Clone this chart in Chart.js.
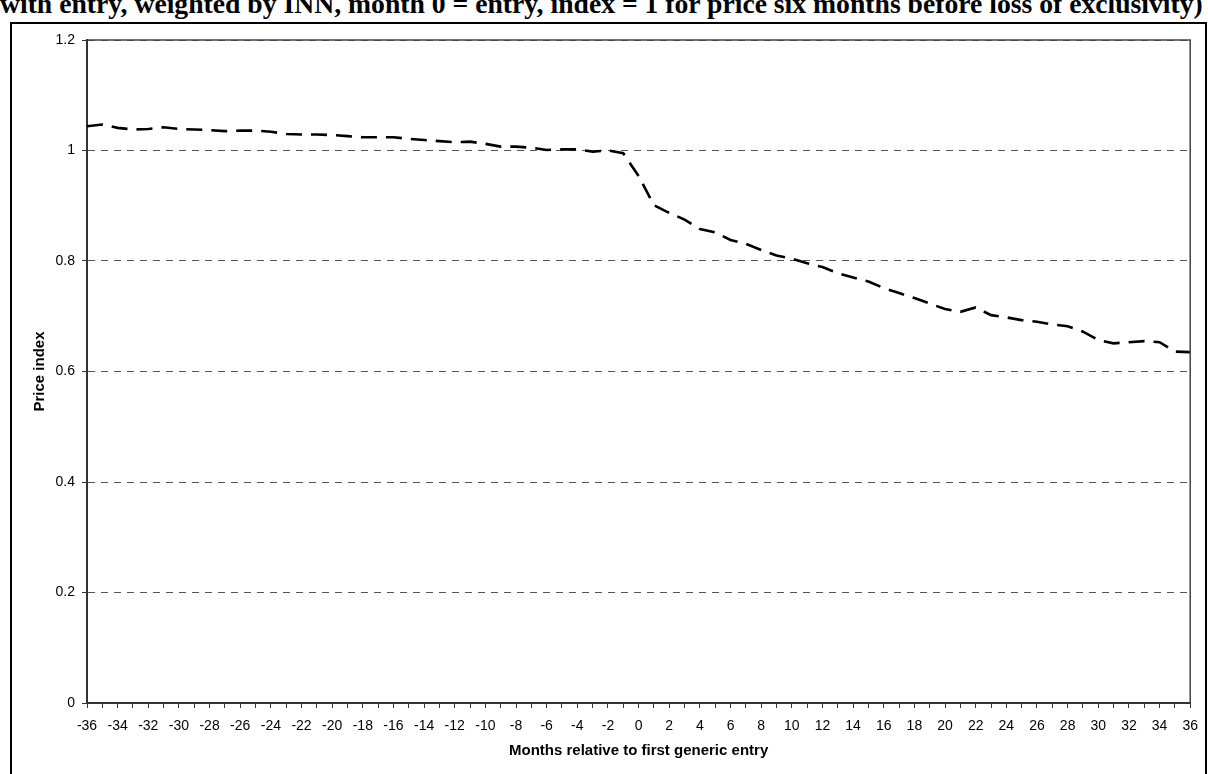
<!DOCTYPE html>
<html>
<head>
<meta charset="utf-8">
<script src="https://cdn.jsdelivr.net/npm/chart.js@4.4.1/dist/chart.umd.min.js"></script>
<style>
  html, body { margin: 0; padding: 0; background: #fff; overflow: hidden; }
  #title {
    position: absolute; left: 0; top: 0; white-space: nowrap;
    font-family: "Liberation Serif", "Times New Roman", serif; font-weight: bold; font-size: 20px;
    line-height: 1; color: #000;
  }
  #frame {
    position: absolute; left: 10px; top: 22px; width: 1193px; height: 800px;
    border: 2px solid #000;
  }
  #priceChart { position: absolute; left: 0; top: 0; }
</style>
</head>
<body>
<div id="title">with entry, weighted by INN, month 0 = entry, index = 1 for price six months before loss of exclusivity)</div>
<div id="frame"></div>
<canvas id="priceChart" width="1208" height="774"></canvas>
<script>
var months = [-36, -35, -34, -33, -32, -31, -30, -29, -28, -27, -26, -25, -24, -23, -22, -21, -20, -19,
  -18, -17, -16, -15, -14, -13, -12, -11, -10, -9, -8, -7, -6, -5, -4, -3, -2, -1,
  0, 1, 2, 3, 4, 5, 6, 7, 8, 9, 10, 11, 12, 13, 14, 15, 16, 17, 18,
  19, 20, 21, 22, 23, 24, 25, 26, 27, 28, 29, 30, 31, 32, 33, 34, 35, 36];

var priceIndex = [1.044, 1.047, 1.041, 1.038, 1.039, 1.042, 1.039, 1.038, 1.037, 1.035, 1.036, 1.036,
  1.034, 1.030, 1.029, 1.029, 1.028, 1.026, 1.024, 1.024, 1.024, 1.021, 1.019, 1.017,
  1.015, 1.016, 1.012, 1.007, 1.007, 1.005, 1.001, 1.002, 1.002, 0.998, 1.000, 0.995,
  0.954, 0.901, 0.887, 0.875, 0.858, 0.852, 0.838, 0.831, 0.820, 0.810, 0.804, 0.796,
  0.789, 0.778, 0.770, 0.763, 0.751, 0.742, 0.733, 0.723, 0.713, 0.708, 0.716, 0.702,
  0.698, 0.693, 0.690, 0.685, 0.682, 0.672, 0.657, 0.651, 0.653, 0.655, 0.653, 0.636, 0.635];

var yTicks = [0, 0.2, 0.4, 0.6, 0.8, 1, 1.2];

// title line is cut off at the top of the page, stretch it to the page width
var titleEl = document.getElementById('title');
var measure = document.createElement('canvas').getContext('2d');
measure.font = 'bold 20px "Liberation Serif"';
var fitSize = 20 * 1204 / measure.measureText(titleEl.textContent).width;
titleEl.style.fontSize = fitSize + 'px';
// baseline near y = 15
titleEl.style.top = (15 - 0.891 * fitSize) + 'px';

var points = months.map(function(m, i) { return { x: m, y: priceIndex[i] }; });

// solid lines on top and right of the plot area
var plotFrame = {
  id: 'plotFrame',
  afterDraw: function(chart) {
    var a = chart.chartArea;
    var ctx = chart.ctx;
    ctx.save();
    ctx.strokeStyle = '#444';
    ctx.lineWidth = 1.5;
    ctx.beginPath();
    ctx.moveTo(a.left, a.top);
    ctx.lineTo(a.right, a.top);
    ctx.lineTo(a.right, a.bottom);
    ctx.stroke();
    ctx.restore();
  }
};

new Chart(document.getElementById('priceChart').getContext('2d'), {
  type: 'line',
  data: {
    datasets: [{
      label: 'Price index',
      data: points,
      borderColor: '#000',
      borderWidth: 2.6,
      borderDash: [16, 9],
      pointRadius: 0,
      tension: 0,
      fill: false
    }]
  },
  options: {
    responsive: false,
    animation: false,
    layout: { padding: { top: 40, right: 17, bottom: 0, left: 0 } },
    plugins: {
      legend: { display: false },
      tooltip: { enabled: false }
    },
    scales: {
      x: {
        type: 'linear',
        min: -36,
        max: 36,
        afterFit: function(scale) { scale.height = 71; },
        ticks: {
          stepSize: 1,
          autoSkip: false,
          maxRotation: 0,
          padding: 10,
          color: '#000',
          font: { family: 'Liberation Sans, Arial', size: 14 },
          callback: function(v) { return v % 2 === 0 ? String(v) : ''; }
        },
        grid: { drawOnChartArea: false, drawTicks: true, tickLength: 5, color: '#333', lineWidth: 1 },
        border: { color: '#333', width: 2 },
        title: {
          display: true,
          text: 'Months relative to first generic entry',
          color: '#000',
          font: { family: 'Liberation Sans, Arial', size: 15, weight: 'bold' },
          padding: { top: 0, bottom: 14 }
        }
      },
      y: {
        min: 0,
        max: 1.2,
        afterFit: function(scale) { scale.width = 87; },
        afterBuildTicks: function(scale) {
          scale.ticks = yTicks.map(function(v) { return { value: v }; });
        },
        ticks: {
          padding: 7,
          color: '#000',
          font: { family: 'Liberation Sans, Arial', size: 14 },
          callback: function(v) { return String(v); }
        },
        grid: { color: '#555', lineWidth: 1, tickLength: 5, tickColor: '#333', tickBorderDash: [] },
        border: { color: '#333', width: 2, dash: [7, 6] },
        title: {
          display: true,
          text: 'Price index',
          color: '#000',
          font: { family: 'Liberation Sans, Arial', size: 15, weight: 'bold' },
          padding: { top: 31, bottom: 0 }
        }
      }
    }
  },
  plugins: [plotFrame]
});
</script>
</body>
</html>
